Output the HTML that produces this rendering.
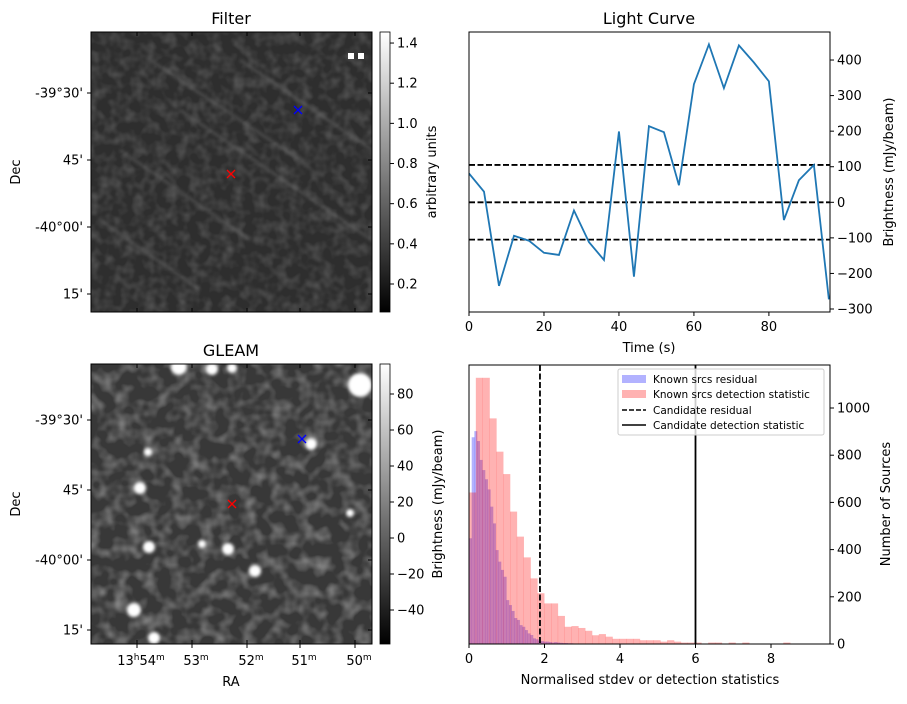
<!DOCTYPE html>
<html><head><meta charset="utf-8"><style>
body{margin:0;background:#fff;}
svg text{font-family:"DejaVu Sans","Liberation Sans",sans-serif;fill:#000;}
</style></head><body>
<svg id="fig" width="907" height="699" viewBox="0 0 907 699" xmlns="http://www.w3.org/2000/svg">
<defs>
<linearGradient id="cbg" x1="0" y1="1" x2="0" y2="0"><stop offset="0" stop-color="#000"/><stop offset="1" stop-color="#fff"/></linearGradient>
<filter id="noiseA" x="0" y="0" width="1" height="1"><feTurbulence type="fractalNoise" baseFrequency="0.09" numOctaves="2" seed="3"/><feColorMatrix type="matrix" values="0 0 0 0 0.2  0 0 0 0 0.2  0 0 0 0 0.2  0.9 0 0 0 -0.35"/></filter>
<filter id="noiseB" x="0" y="0" width="1" height="1"><feTurbulence type="fractalNoise" baseFrequency="0.07" numOctaves="2" seed="7"/><feColorMatrix type="matrix" values="0 0 0 0 0.5  0 0 0 0 0.5  0 0 0 0 0.5  1.2 0 0 0 -0.5"/></filter>
<filter id="blur1"><feGaussianBlur stdDeviation="1.5"/></filter>
<clipPath id="clipA"><rect x="91" y="32" width="281" height="280"/></clipPath>
<clipPath id="clipB"><rect x="91" y="364" width="281" height="280"/></clipPath>
<clipPath id="clipLC"><rect x="469" y="32" width="361" height="280"/></clipPath>
<clipPath id="clipH"><rect x="469" y="365" width="361" height="279"/></clipPath>
</defs>

<g clip-path="url(#clipA)">
<rect x="91" y="32" width="281" height="280" fill="#2e2e2e"/>
<rect x="91" y="32" width="281" height="280" fill="#000" filter="url(#noiseA)"/>
<g stroke="#8a8a8a" stroke-width="3" opacity="0.3" filter="url(#blur1)">
<line x1="180" y1="110" x2="372" y2="240"/>
<line x1="150" y1="60" x2="300" y2="160"/>
<line x1="120" y1="150" x2="250" y2="240"/>
<line x1="240" y1="60" x2="372" y2="150"/>
<line x1="100" y1="220" x2="200" y2="290"/>
</g>
<g fill="#fff"><rect x="348" y="53" width="6" height="6"/><rect x="358" y="53" width="6" height="6"/></g>
</g>
<rect x="91" y="32" width="281" height="280" fill="none" stroke="#000"/>
<g stroke="blue" stroke-width="1.3"><line x1="294" y1="106" x2="302" y2="114"/><line x1="302" y1="106" x2="294" y2="114"/></g>
<g stroke="red" stroke-width="1.3"><line x1="227" y1="170" x2="235" y2="178"/><line x1="235" y1="170" x2="227" y2="178"/></g>
<text x="231" y="24" font-size="16" text-anchor="middle">Filter</text>
<text x="20" y="172" font-size="13" text-anchor="middle" transform="rotate(-90 20 172)">Dec</text>
<g id="decA"></g>

<rect x="380" y="32" width="10" height="280" fill="url(#cbg)" stroke="#000" stroke-width="0.8"/>
<g id="cbA"></g>
<text x="436" y="172" font-size="13" text-anchor="middle" transform="rotate(-90 436 172)">arbitrary units</text>

<g clip-path="url(#clipB)">
<rect x="91" y="364" width="281" height="280" fill="#383838"/>
<rect x="91" y="364" width="281" height="280" fill="#000" filter="url(#noiseB)"/>
<g fill="#fff" filter="url(#blur1)" id="srcs"></g>
</g>
<rect x="91" y="364" width="281" height="280" fill="none" stroke="#000"/>
<g stroke="blue" stroke-width="1.3"><line x1="298" y1="435" x2="306" y2="443"/><line x1="306" y1="435" x2="298" y2="443"/></g>
<g stroke="red" stroke-width="1.3"><line x1="228" y1="500" x2="236" y2="508"/><line x1="236" y1="500" x2="228" y2="508"/></g>
<text x="231" y="356" font-size="16" text-anchor="middle">GLEAM</text>
<text x="20" y="504" font-size="13" text-anchor="middle" transform="rotate(-90 20 504)">Dec</text>
<text x="231" y="686" font-size="13" text-anchor="middle">RA</text>
<g id="decB"></g>
<g id="raT"></g>

<rect x="380" y="364" width="10" height="280" fill="url(#cbg)" stroke="#000" stroke-width="0.8"/>
<g id="cbB"></g>
<text x="442" y="504" font-size="13" text-anchor="middle" transform="rotate(-90 442 504)">Brightness (mJy/beam)</text>

<text x="649" y="24" font-size="16" text-anchor="middle">Light Curve</text>
<g id="lc"></g>
<rect x="469" y="32" width="361" height="280" fill="none" stroke="#000"/>
<text x="649" y="352" font-size="13" text-anchor="middle">Time (s)</text>
<text x="893" y="172" font-size="13" text-anchor="middle" transform="rotate(-90 893 172)">Brightness (mJy/beam)</text>

<g id="hist"></g>
<rect x="469" y="365" width="361" height="279" fill="none" stroke="#000"/>
<text x="650" y="684" font-size="13" text-anchor="middle">Normalised stdev or detection statistics</text>
<text x="890" y="504" font-size="13" text-anchor="middle" transform="rotate(-90 890 504)">Number of Sources</text>
<g>
<rect x="618" y="369" width="206" height="66" fill="#fff" fill-opacity="0.8" stroke="#ccc" rx="2"/>
<rect x="622" y="375" width="24" height="8" fill="blue" fill-opacity="0.3"/>
<text x="653" y="383" font-size="10.5">Known srcs residual</text>
<rect x="622" y="390" width="24" height="8" fill="red" fill-opacity="0.3"/>
<text x="653" y="398" font-size="10.5">Known srcs detection statistic</text>
<line x1="622" y1="410" x2="646" y2="410" stroke="#000" stroke-width="1.5" stroke-dasharray="5,2"/>
<text x="653" y="414" font-size="10.5">Candidate residual</text>
<line x1="622" y1="425" x2="646" y2="425" stroke="#000" stroke-width="1.5"/>
<text x="653" y="429" font-size="10.5">Candidate detection statistic</text>
</g>
</svg>
<script>
const NS="http://www.w3.org/2000/svg";
function mk(tag,attrs,parent,txt){const e=document.createElementNS(NS,tag);for(const k in attrs)e.setAttribute(k,attrs[k]);if(txt!==undefined)e.textContent=txt;parent.appendChild(e);return e;}

const lcTimes=[0,4,8,12,16,20,24,28,32,36,40,44,48,52,56,60,64,68,72,76,80,84,88,92,96];
const lcValues=[81,30,-235,-94,-108,-142,-148,-23,-112,-162,199,-209,214,197,48,332,444,321,441,393,340,-50,62,105,-273];
const lcLevels=[105,0,-105];
const lcXTicks=[0,20,40,60,80];
const lcYTicks=[-300,-200,-100,0,100,200,300,400];
const lcX=t=>469+t*(361/96.3);
const lcY=v=>202.3-v*0.3557;

const redBinWidth=0.181;
const redCounts=[642,1128,1128,956,815,720,561,455,367,278,215,172,172,119,73,76,68,56,37,42,31,22,22,22,22,16,16,16,10,16,10,6,6,6,0,6,6,0,6,0,6,0,0,0,0,0,6];
const blueBinWidth=0.0706;
const blueCounts=[448,876,902,860,780,737,698,655,582,511,398,349,314,285,186,165,140,110,102,80,73,59,45,38,24,20,14,12,10,10,8,6,8,6,5,4,4,3,3,2,2,2,1,1,1];
const candResidual=1.88;
const candDetection=6.0;
const hXTicks=[0,2,4,6,8];
const hYTicks=[0,200,400,600,800,1000];
const hX=v=>469+v*37.75;
const hY=c=>644-c*0.236;

const decLabels=["-39°30'","45'","-40°00'","15'"];
const decA=[93,160,227,294], decB=[420,490,560,630];
const raLabels=[["13","h","54","m"],["","","53","m"],["","","52","m"],["","","51","m"],["","","50","m"]];
const raPos=[137,192,247,300,355];
const cbATicks=[0.2,0.4,0.6,0.8,1.0,1.2,1.4];
const cbBTicks=[-40,-20,0,20,40,60,80];
const srcs=[[179,367,8],[212,369,6],[232,368,5],[360,385,12],[311,444,6],[148,452,4],[140,488,6],[350,513,4],[149,547,6],[228,549,6],[255,571,6],[134,610,7],[154,638,6],[202,544,4]];

const lc=document.getElementById('lc');
lcLevels.forEach((v,i)=>{const l=mk('line',{x1:469,x2:830,y1:lcY(v),y2:lcY(v),stroke:'#000','stroke-width':1.8,'stroke-dasharray':'6,2.5'},lc);

});
const pl=mk('polyline',{points:lcTimes.map((t,i)=>lcX(t)+','+lcY(lcValues[i])).join(' '),fill:'none',stroke:'#1f77b4','stroke-width':1.8,'clip-path':'url(#clipLC)'},lc);


lcXTicks.forEach(t=>{mk('line',{x1:lcX(t),x2:lcX(t),y1:312,y2:316,stroke:'#000'},lc);
const tx=mk('text',{x:lcX(t),y:331,'font-size':13,'text-anchor':'middle'},lc,String(t));

});
lcYTicks.forEach(v=>{mk('line',{x1:830,x2:834,y1:lcY(v),y2:lcY(v),stroke:'#000'},lc);
const tx=mk('text',{x:837,y:lcY(v)+4.5,'font-size':13},lc,v<0?'\u2212'+(-v):String(v));

});

const h=document.getElementById('hist');
const hg=mk('g',{'clip-path':'url(#clipH)'},h);
blueCounts.forEach((c,i)=>{if(!c)return;const r=mk('rect',{x:hX(i*blueBinWidth),y:hY(c),width:hX((i+1)*blueBinWidth)-hX(i*blueBinWidth)+0.3,height:644-hY(c),fill:'blue','fill-opacity':0.3},hg);

});
redCounts.forEach((c,i)=>{if(!c)return;const r=mk('rect',{x:hX(i*redBinWidth),y:hY(c),width:hX((i+1)*redBinWidth)-hX(i*redBinWidth)+0.3,height:644-hY(c),fill:'red','fill-opacity':0.3},hg);

});
const l1=mk('line',{x1:hX(candResidual),x2:hX(candResidual),y1:365,y2:644,stroke:'#000','stroke-width':1.8,'stroke-dasharray':'6,2.5'},h);


const l2=mk('line',{x1:hX(candDetection),x2:hX(candDetection),y1:365,y2:644,stroke:'#000','stroke-width':1.8},h);


hXTicks.forEach(t=>{mk('line',{x1:hX(t),x2:hX(t),y1:644,y2:648,stroke:'#000'},h);
const tx=mk('text',{x:hX(t),y:663,'font-size':13,'text-anchor':'middle'},h,String(t));

});
hYTicks.forEach(v=>{mk('line',{x1:830,x2:834,y1:hY(v),y2:hY(v),stroke:'#000'},h);
const tx=mk('text',{x:837,y:hY(v)+4.5,'font-size':13},h,String(v));

});

function decTicks(id,ys){const g=document.getElementById(id);ys.forEach((y,i)=>{mk('line',{x1:87,x2:91,y1:y,y2:y,stroke:'#000'},g);mk('line',{x1:372,x2:368,y1:y,y2:y,stroke:'#000'},g);
const t=mk('text',{x:83,y:y+4.5,'font-size':13,'text-anchor':'end'},g,decLabels[i]);

});}
decTicks('decA',decA);decTicks('decB',decB);
const raG=document.getElementById('raT');
raPos.forEach((x,i)=>{[[32,4],[312,-4],[364,4],[644,-4]].forEach(([y,d])=>mk('line',{x1:x,x2:x,y1:y,y2:y+d,stroke:'#000'},raG));
mk('line',{x1:x,x2:x,y1:644,y2:648,stroke:'#000'},raG);
const p=raLabels[i];const t=mk('text',{x:x+4,y:665,'font-size':13,'text-anchor':'middle'},raG);
if(p[0]){t.appendChild(document.createTextNode(p[0]));mk('tspan',{'font-size':9,dy:-5},t,p[1]);mk('tspan',{dy:5},t,p[2]);}else{t.appendChild(document.createTextNode(p[2]));}
mk('tspan',{'font-size':9,dy:-5},t,p[3]);

});
function cbTicks(id,ticks,f){const g=document.getElementById(id);ticks.forEach(v=>{const y=f(v);mk('line',{x1:390,x2:394,y1:y,y2:y,stroke:'#000'},g);
const t=mk('text',{x:397,y:y+4.5,'font-size':13},g,v<0?'\u2212'+(-v):(id=='cbB'?String(v):v.toFixed(1)));

});}
cbTicks('cbA',cbATicks,v=>284-(v-0.2)*200.8);
cbTicks('cbB',cbBTicks,v=>538-v*1.8);
const sg=document.getElementById('srcs');
srcs.forEach(s=>{const c=mk('circle',{cx:s[0],cy:s[1],r:s[2]},sg);

});
</script>
</body></html>
